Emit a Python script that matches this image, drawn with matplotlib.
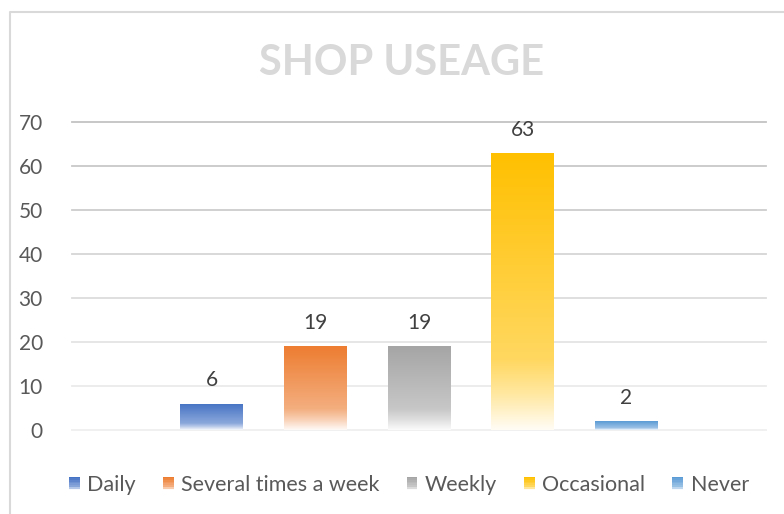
import numpy as np
import matplotlib
matplotlib.use("Agg")
import matplotlib.pyplot as plt
from matplotlib.colors import to_rgb
from matplotlib.patches import Rectangle
from matplotlib.legend_handler import HandlerBase
from matplotlib.lines import Line2D

categories = ["Daily", "Several times a week", "Weekly", "Occasional", "Never"]
values = [6, 19, 19, 63, 2]
colors = ["#4472C4", "#ED7D31", "#A5A5A5", "#FFC000", "#5B9BD5"]
yticks = [0, 10, 20, 30, 40, 50, 60, 70]
title = "SHOP USEAGE"

plt.rcParams['font.family'] = ['Lato', 'DejaVu Sans']

W, H = 784, 514
fig = plt.figure(figsize=(W / 100, H / 100), dpi=100)
ax = fig.add_axes([72 / W, (H - 430) / H, (766 - 72) / W, (430 - 122) / H])

# chart frame
fig.add_artist(Line2D([10 / W, 10 / W, 1.01], [-0.01, 1 - 12 / H, 1 - 12 / H],
                      transform=fig.transFigure, color="#d9d9d9", lw=1.5))


def grad_image(color, n=256):
    c = np.array(to_rgb(color))
    t = np.linspace(0, 1, n)  # 0 = top, 1 = bottom
    amt = np.interp(t, [0, 0.75, 0.88, 1.0], [1.0, 0.62, 0.35, 0.04])
    img = 1 - (1 - c)[None, :] * amt[:, None]
    return img[:, None, :]


x = np.arange(len(categories))
bars = ax.bar(x, values, width=0.607, color="none", edgecolor="none", zorder=3)
for rect, col, v in zip(bars, colors, values):
    x0, w, h = rect.get_x(), rect.get_width(), rect.get_height()
    im = ax.imshow(grad_image(col), extent=[x0, x0 + w, 0, h], aspect="auto",
                   zorder=3, interpolation="bilinear")
    im.set_clip_path(rect)
    ax.text(x0 + w / 2, h + 3.0, str(v), ha="center", va="bottom",
            fontsize=15, color="#404040", zorder=4)

ax.set_xlim(-1.345, 5.345)
ax.set_ylim(0, 70)

grid_cols = ["#efefef", "#ebebeb", "#e4e4e4", "#dcdcdc", "#d5d5d5", "#cdcdcd", "#c8c8c8", "#c3c3c3"]
for yv, gc in zip(yticks, grid_cols):
    ax.axhline(yv, color=gc, lw=1.3, zorder=1, clip_on=False)

ax.set_yticks(yticks)
ax.set_yticklabels([str(t) for t in yticks], fontsize=15, color="#595959")
ax.tick_params(axis="y", length=0, pad=21)
ax.set_xticks([])
for s in ax.spines.values():
    s.set_visible(False)
ax.set_facecolor("none")

fig.text(402 / W, 1 - 63 / H, title, ha="center", va="center", fontsize=30,
         fontweight="bold", color="#d9d9d9")


class GradHandler(HandlerBase):
    def create_artists(self, legend, orig_handle, xdescent, ydescent, width,
                       height, fontsize, trans):
        col = orig_handle.get_facecolor()
        arts = []
        n = 8
        img = grad_image(col, n)
        for i in range(n):
            r = Rectangle((-xdescent, -ydescent + height * (n - 1 - i) / n), width,
                          height / n, facecolor=img[i, 0], edgecolor="none",
                          transform=trans)
            arts.append(r)
        return arts


handles = [Rectangle((0, 0), 1, 1, facecolor=c) for c in colors]
leg = fig.legend(handles, categories, loc="center", ncol=5,
                 bbox_to_anchor=(409 / W, 1 - 485 / H), frameon=False,
                 fontsize=15.5, handlelength=0.5, handleheight=0.6,
                 handletextpad=0.35, columnspacing=1.25,
                 handler_map={Rectangle: GradHandler()})
for t in leg.get_texts():
    t.set_color("#595959")

fig.savefig("out.png", dpi=100)
